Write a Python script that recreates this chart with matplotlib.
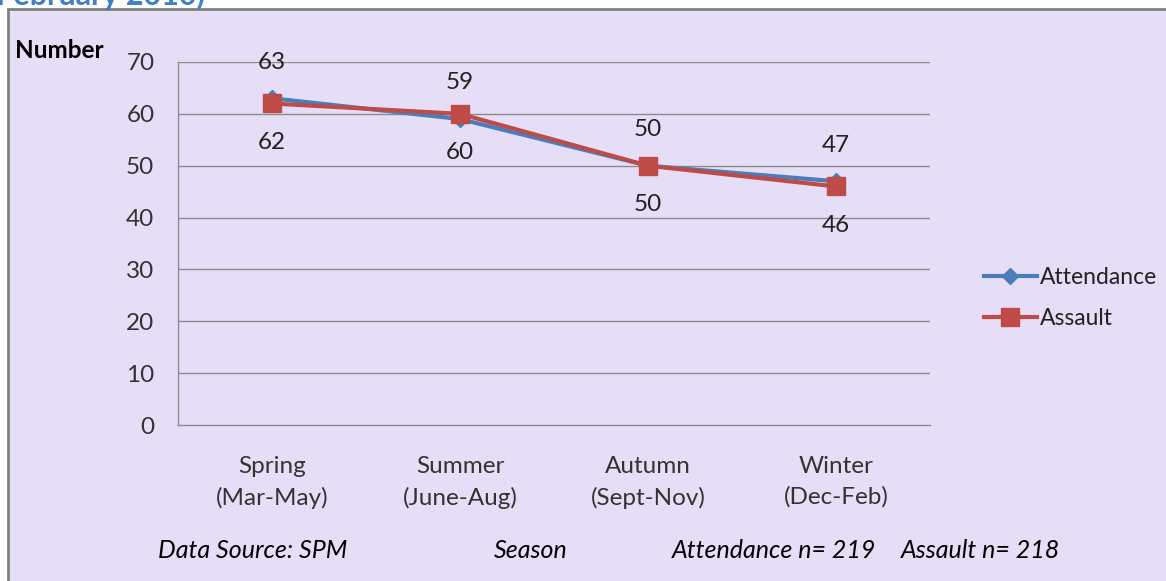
import numpy as np
import matplotlib.pyplot as plt
from matplotlib.patches import Rectangle

seasons = ["Spring\n(Mar-May)", "Summer\n(June-Aug)", "Autumn\n(Sept-Nov)", "Winter\n(Dec-Feb)"]
attendance = [63, 59, 50, 47]
assault = [62, 60, 50, 46]
yticks = [0, 10, 20, 30, 40, 50, 60, 70]

bg = "#E6DEF7"
blue = "#4A7EBB"
red = "#BE4B48"
grid = "#8C8C8C"

plt.rcParams['font.family'] = ['Lato', 'DejaVu Sans']

fig = plt.figure(figsize=(11.66, 5.81), dpi=100)
W, H = 1166, 581
# outer panel with grey border
fig.patches.append(Rectangle((8 / W, -0.01), 1.1, 1 - 9 / H + 0.01, transform=fig.transFigure,
                             facecolor=bg, edgecolor="#808080", linewidth=2, zorder=-5))
fig.text(-4 / W, 1 - 5 / H, "February 2010)", color="#3F7FC4", fontsize=22, fontweight="bold",
         ha="left", va="baseline")

ax = fig.add_axes([178 / W, 1 - 425 / H, (930 - 178) / W, (425 - 62) / H])
ax.set_facecolor("none")
x = np.arange(len(seasons))

ax.plot(x, attendance, color=blue, lw=3, marker="D", ms=8, label="Attendance", zorder=3)
ax.plot(x, assault, color=red, lw=3, marker="s", ms=13, label="Assault", zorder=4)

for xi, v in zip(x, attendance):
    ax.annotate(str(v), (xi, v), xytext=(0, 26), textcoords="offset points",
                ha="center", va="center", fontsize=17.5, color="#222222")
for xi, v in zip(x, assault):
    ax.annotate(str(v), (xi, v), xytext=(0, -28), textcoords="offset points",
                ha="center", va="center", fontsize=17.5, color="#222222")

ax.set_xlim(-0.5, 3.5)
ax.set_ylim(0, 70)
ax.set_yticks(yticks)
ax.set_xticks(x)
ax.set_xticklabels(seasons, fontsize=17.5, color="#333333", linespacing=1.55)
ax.tick_params(axis="y", length=0, pad=17, labelsize=17.5, labelcolor="#333333")
ax.tick_params(axis="x", length=0, pad=22)
for yv in yticks[1:]:
    ax.axhline(yv, color=grid, lw=1, zorder=1)
for s in ["top", "right"]:
    ax.spines[s].set_visible(False)
for s in ["left", "bottom"]:
    ax.spines[s].set_color(grid)
    ax.spines[s].set_linewidth(1)

fig.text(15 / W, 1 - 50 / H, "Number", fontsize=17.5, fontweight="bold", ha="left", va="center")

ax.legend(loc="center left", bbox_to_anchor=(968 / W, 1 - 298 / H), bbox_transform=fig.transFigure,
          frameon=False, fontsize=16.5, handlelength=2.3, handletextpad=0.15, labelspacing=0.9,
          labelcolor="#222222", borderpad=0.2)

fig.text(158 / W, 1 - 551 / H, "Data Source: SPM", fontsize=18, style="italic", ha="left", va="center")
fig.text(531 / W, 1 - 551 / H, "Season", fontsize=18, style="italic", ha="center", va="center")
fig.text(672 / W, 1 - 551 / H, "Attendance n= 219", fontsize=18, style="italic", ha="left", va="center")
fig.text(901 / W, 1 - 551 / H, "Assault n= 218", fontsize=18, style="italic", ha="left", va="center")

fig.savefig("out.png", dpi=100, facecolor="white")
